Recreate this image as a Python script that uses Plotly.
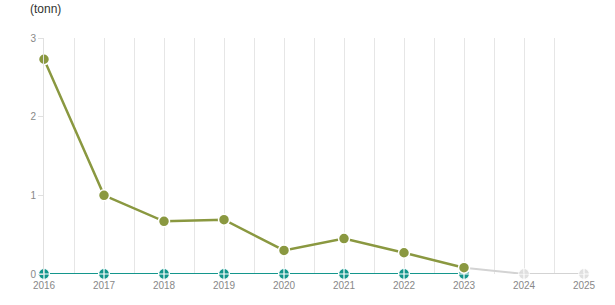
import plotly.graph_objects as go

years = [2016, 2017, 2018, 2019, 2020, 2021, 2022, 2023]
main_vals = [2.73, 1.0, 0.67, 0.69, 0.30, 0.45, 0.27, 0.08]
zero_vals = [0, 0, 0, 0, 0, 0, 0, 0]
proj_years = [2023, 2024, 2025]
proj_vals = [0.08, 0, 0]
x_ticks = list(range(2016, 2026))
y_ticks = [0, 1, 2, 3]

fig = go.Figure()
fig.add_trace(go.Scatter(
    x=proj_years, y=proj_vals, mode="lines+markers",
    line=dict(color="#d3d3d3", width=2),
    marker=dict(symbol="circle-cross", size=[0, 11, 11], color="#d3d3d3",
                line=dict(color="white", width=1.2)),
    cliponaxis=False, showlegend=False))
fig.add_trace(go.Scatter(
    x=years, y=zero_vals, mode="lines+markers",
    line=dict(color="#14968c", width=1.8),
    marker=dict(symbol="circle-cross", size=11, color="#14968c",
                line=dict(color="white", width=1.2)),
    cliponaxis=False, showlegend=False))
fig.add_trace(go.Scatter(
    x=years, y=main_vals, mode="lines+markers",
    line=dict(color="#8a9840", width=2.5),
    marker=dict(symbol="circle", size=11, color="#8a9840",
                line=dict(color="white", width=1.5)),
    cliponaxis=False, showlegend=False))

fig.update_layout(
    width=615, height=305,
    margin=dict(l=44, r=31, t=38, b=31),
    plot_bgcolor="white", paper_bgcolor="white",
    font=dict(family="Arial, Liberation Sans, sans-serif", size=10, color="#888888"),
    xaxis=dict(range=[2016, 2025], tickvals=x_ticks, ticktext=[str(v) for v in x_ticks],
               showgrid=True, gridcolor="#e6e6e6", gridwidth=1,
               minor=dict(dtick=0.5, tick0=2016, showgrid=True, gridcolor="#e6e6e6"),
               showline=False, zeroline=False, ticks="", ticklen=0,
               ticklabelstandoff=4,
               tickfont=dict(size=10, color="#888888")),
    yaxis=dict(range=[0, 3], tickvals=y_ticks, showgrid=False, zeroline=False,
               showline=True, linecolor="#e0e0e0", linewidth=1,
               ticks="outside", ticklen=5, tickcolor="#e0e0e0",
               tickfont=dict(size=10, color="#888888")),
    annotations=[dict(text="(tonn)", xref="paper", yref="paper", x=-0.03, y=1.0,
                      yshift=38, xanchor="left", yanchor="top", showarrow=False,
                      font=dict(size=12, color="#333333"))],
)

fig.write_html("out.html")
